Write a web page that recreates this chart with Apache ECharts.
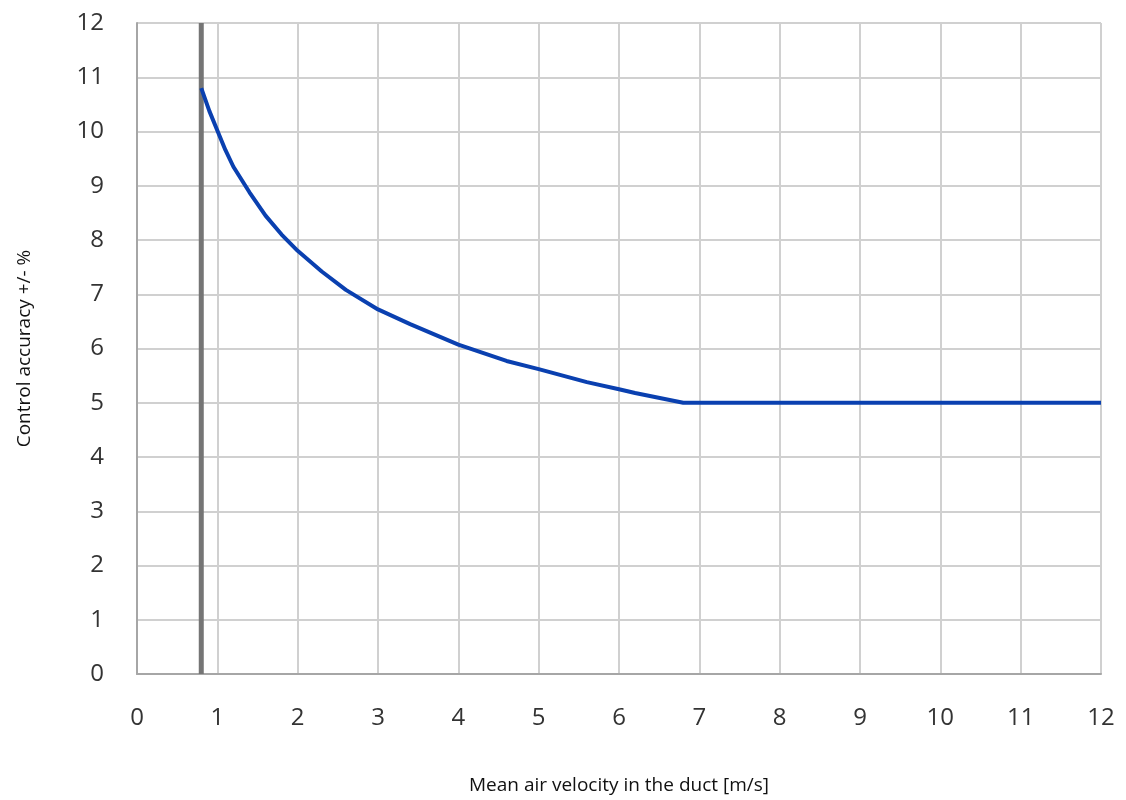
<!DOCTYPE html>
<html lang="en">
<head>
    <meta charset="UTF-8">
    <title>Control accuracy</title>
    <script src="https://cdn.jsdelivr.net/npm/echarts@6/dist/echarts.min.js"></script>
    <style>
        html, body { margin: 0; padding: 0; background: #fff; }
        #charts { width: 1126px; height: 800px; }
    </style>
</head>
<body>
<div id="charts"></div>
<script>
    // velocity [m/s] vs accuracy [+/- %]
    var velocity = [0.8, 0.9, 1.0, 1.1, 1.2, 1.4, 1.6, 1.8, 2.0, 2.3, 2.6, 3.0, 3.4, 4.0, 4.6, 5.0, 5.6, 6.0, 6.2, 6.8, 12];
    var accuracy = [10.8, 10.38, 10.02, 9.66, 9.35, 8.88, 8.45, 8.1, 7.8, 7.42, 7.08, 6.72, 6.45, 6.07, 5.77, 5.62, 5.38, 5.25, 5.18, 5.0, 5.0];
    var limitX = [0.8, 0.8];
    var limitY = [0, 12];

    var curve = [];
    for (var i = 0; i < velocity.length; i++) {
        curve.push([velocity[i], accuracy[i]]);
    }
    var limit = [];
    for (var j = 0; j < limitX.length; j++) {
        limit.push([limitX[j], limitY[j]]);
    }

    var myChart = echarts.init(document.getElementById('charts'));
    var labelFont = 'Open Sans';

    var option = {
        animation: false,
        grid: { left: 137, right: 25, top: 23, bottom: 124 },
        xAxis: {
            type: 'value',
            min: 0, max: 12, interval: 1,
            name: 'Mean air velocity in the duct [m/s]',
            nameLocation: 'middle',
            nameGap: 102,
            nameTextStyle: { color: '#111', fontSize: 19, fontFamily: labelFont },
            axisLine: { show: true, lineStyle: { color: '#a6a6a6', width: 2 } },
            axisTick: { show: false },
            axisLabel: { color: '#333', fontSize: 24, fontFamily: labelFont, margin: 32 },
            splitLine: { show: true, lineStyle: { color: '#d0d0d0', width: 2 } }
        },
        yAxis: {
            type: 'value',
            min: 0, max: 12, interval: 1,
            name: 'Control accuracy +/- %',
            nameLocation: 'middle',
            nameGap: 103,
            nameRotate: 90,
            nameTextStyle: { color: '#111', fontSize: 19, fontFamily: labelFont },
            axisLine: { show: true, lineStyle: { color: '#a6a6a6', width: 2 } },
            axisTick: { show: false },
            axisLabel: { color: '#333', fontSize: 24, fontFamily: labelFont, margin: 33 },
            splitLine: { show: true, lineStyle: { color: '#d0d0d0', width: 2 } }
        },
        series: [
            {
                type: 'line',
                data: limit,
                symbol: 'none',
                lineStyle: { color: '#757575', width: 5 },
                z: 3
            },
            {
                type: 'line',
                data: curve,
                symbol: 'none',
                lineStyle: { color: '#0a40b0', width: 4 },
                z: 4
            }
        ]
    };

    myChart.setOption(option);
</script>
</body>
</html>
